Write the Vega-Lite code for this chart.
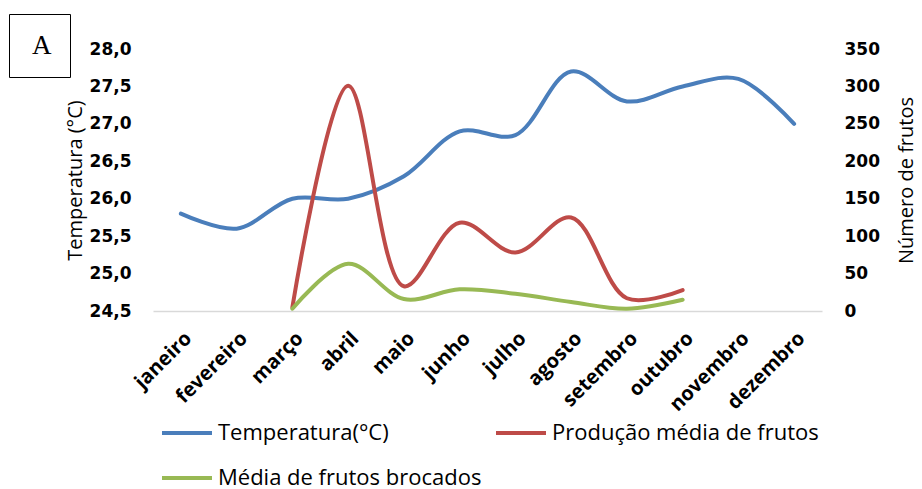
{
  "$schema": "https://vega.github.io/schema/vega-lite/v6.json",
  "autosize": "none",
  "width": 669,
  "height": 262,
  "padding": {"left": 153, "top": 49, "right": 100, "bottom": 178},
  "background": "white",
  "config": {
    "view": {"stroke": null},
    "font": "Open Sans",
    "locale": {"number": {"decimal": ",", "thousands": ".", "grouping": [3], "currency": ["R$", ""]}},
    "axis": {"grid": false, "ticks": false, "labelColor": "black", "titleColor": "black"}
  },
  "data": {
    "values": [
      {"mes": "janeiro", "serie": "Temperatura(°C)", "valor": 25.8},
      {"mes": "fevereiro", "serie": "Temperatura(°C)", "valor": 25.6},
      {"mes": "março", "serie": "Temperatura(°C)", "valor": 26.0},
      {"mes": "abril", "serie": "Temperatura(°C)", "valor": 26.0},
      {"mes": "maio", "serie": "Temperatura(°C)", "valor": 26.3},
      {"mes": "junho", "serie": "Temperatura(°C)", "valor": 26.9},
      {"mes": "julho", "serie": "Temperatura(°C)", "valor": 26.85},
      {"mes": "agosto", "serie": "Temperatura(°C)", "valor": 27.7},
      {"mes": "setembro", "serie": "Temperatura(°C)", "valor": 27.3},
      {"mes": "outubro", "serie": "Temperatura(°C)", "valor": 27.5},
      {"mes": "novembro", "serie": "Temperatura(°C)", "valor": 27.6},
      {"mes": "dezembro", "serie": "Temperatura(°C)", "valor": 27.0},
      {"mes": "março", "serie": "Produção média de frutos", "valor": 5},
      {"mes": "abril", "serie": "Produção média de frutos", "valor": 301},
      {"mes": "maio", "serie": "Produção média de frutos", "valor": 33},
      {"mes": "junho", "serie": "Produção média de frutos", "valor": 118},
      {"mes": "julho", "serie": "Produção média de frutos", "valor": 78},
      {"mes": "agosto", "serie": "Produção média de frutos", "valor": 125},
      {"mes": "setembro", "serie": "Produção média de frutos", "valor": 17},
      {"mes": "outubro", "serie": "Produção média de frutos", "valor": 28},
      {"mes": "março", "serie": "Média de frutos brocados", "valor": 3},
      {"mes": "abril", "serie": "Média de frutos brocados", "valor": 63},
      {"mes": "maio", "serie": "Média de frutos brocados", "valor": 16},
      {"mes": "junho", "serie": "Média de frutos brocados", "valor": 29},
      {"mes": "julho", "serie": "Média de frutos brocados", "valor": 23},
      {"mes": "agosto", "serie": "Média de frutos brocados", "valor": 12},
      {"mes": "setembro", "serie": "Média de frutos brocados", "valor": 3},
      {"mes": "outubro", "serie": "Média de frutos brocados", "valor": 15}
    ]
  },
  "encoding": {
    "x": {
      "field": "mes", "type": "ordinal",
      "sort": ["janeiro","fevereiro","março","abril","maio","junho","julho","agosto","setembro","outubro","novembro","dezembro"],
      "scale": {"type": "point", "padding": 0.5},
      "axis": {"title": null, "labelAngle": -45, "labelFontSize": 20, "labelFontWeight": "bold", "labelPadding": 17, "domainColor": "#d9d9d9", "domainWidth": 1.5}
    }
  },
  "layer": [
    {
      "transform": [{"filter": "datum.serie === 'Temperatura(°C)'"}],
      "encoding": {
        "y": {
          "field": "valor", "type": "quantitative",
          "scale": {"domain": [24.5, 28.0], "zero": false, "nice": false},
          "axis": {"orient": "left", "title": "Temperatura (°C)", "values": [24.5,25,25.5,26,26.5,27,27.5,28],
            "labelExpr": "format(datum.value, '.1f')", "labelOverlap": false, "labelFont": "DejaVu Sans",
            "labelFontSize": 17, "labelFontWeight": "bold", "labelPadding": 22, "domain": false,
            "titleFontSize": 20, "titleFontWeight": "normal", "titlePadding": 4}
        }
      },
      "layer": [
        {
          "mark": {"type": "line", "interpolate": "catmull-rom", "strokeWidth": 4, "strokeCap": "round"},
          "encoding": {
            "color": {
              "field": "serie", "type": "nominal",
              "scale": {"domain": ["Temperatura(°C)", "Produção média de frutos", "Média de frutos brocados"], "range": ["#4A7EBB", "#BE4B48", "#98B954"]},
              "legend": {"orient": "none", "direction": "horizontal", "legendX": 7, "legendY": 357, "title": null, "columns": 2, "symbolType": "stroke", "symbolSize": 2500, "symbolStrokeWidth": 4, "labelFontSize": 22, "labelColor": "black", "labelOffset": 4, "columnPadding": 6, "rowPadding": 7, "labelLimit": 400}
            }
          }
        },
        {
          "transform": [{"filter": "datum.mes === 'janeiro'"}],
          "mark": {"type": "point", "opacity": 0},
          "encoding": {
            "shape": {
              "field": "mes", "type": "nominal",
              "legend": {"orient": "none", "legendX": -144, "legendY": -35, "title": null, "labelExpr": "'A'", "labelFont": "Liberation Serif", "labelFontSize": 27, "labelColor": "black", "symbolSize": 0, "symbolOpacity": 0, "symbolStrokeWidth": 0, "labelOffset": -22, "strokeColor": "black", "padding": 18}
            }
          }
        }
      ]
    },
    {
      "transform": [{"filter": "datum.serie !== 'Temperatura(°C)'"}],
      "mark": {"type": "line", "interpolate": "catmull-rom", "strokeWidth": 4, "strokeCap": "round"},
      "encoding": {
        "y": {
          "field": "valor", "type": "quantitative",
          "scale": {"domain": [0, 350], "nice": false},
          "axis": {"orient": "right", "title": "Número de frutos", "values": [0,50,100,150,200,250,300,350],
            "format": "d", "labelFont": "DejaVu Sans",
            "labelFontSize": 17, "labelFontWeight": "bold", "labelPadding": 22, "domain": false,
            "titleFontSize": 20, "titleFontWeight": "normal", "titlePadding": 17, "titleAngle": 270, "titleBaseline": "top"}
        },
        "color": {"field": "serie", "type": "nominal"}
      }
    }
  ],
  "resolve": {"scale": {"y": "independent"}}
}
